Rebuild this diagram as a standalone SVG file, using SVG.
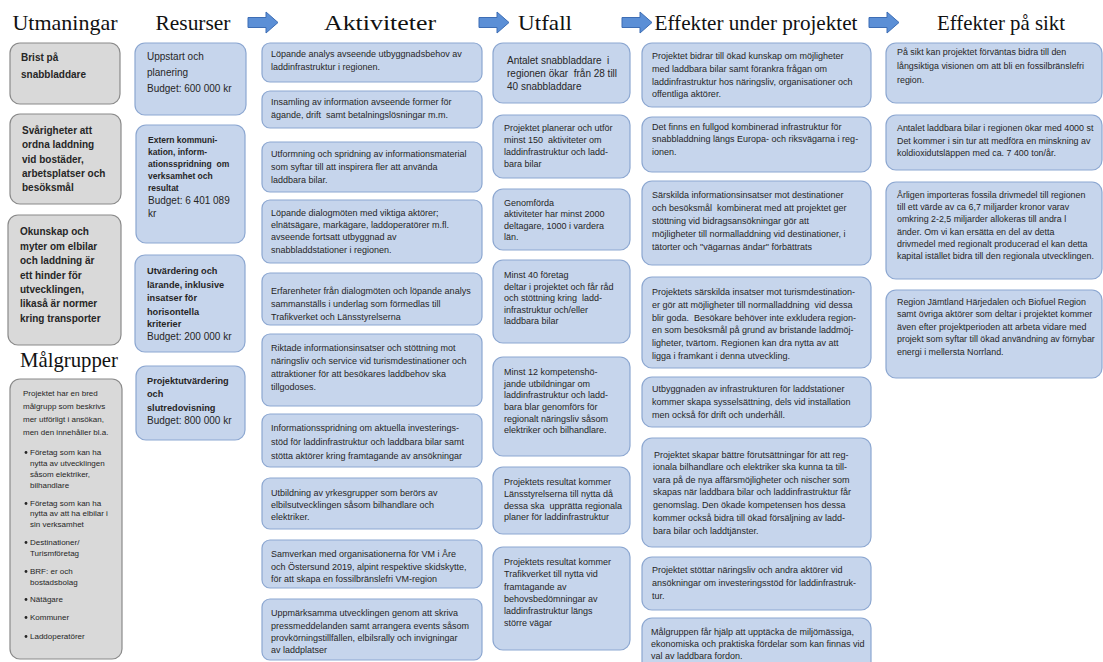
<svg xmlns="http://www.w3.org/2000/svg" width="1103" height="662" viewBox="0 0 1103 662">
<style>
text{font-family:"Liberation Sans",Arial,sans-serif;font-size:9px;fill:#262626;white-space:pre}
.h{font-family:"Liberation Serif","Times New Roman",serif;font-size:21.5px;fill:#111;text-anchor:middle}
.b{font-weight:bold}
.s10{font-size:10px}
.s8{font-size:8px}
.s93{font-size:8.9px}
.bx{fill:#c6d5ec;stroke:#8ca7d1;stroke-width:1.2}
.gx{fill:#d9d9d9;stroke:#8a8a8a;stroke-width:1.2}
.arr{fill:#5b8fd6;stroke:#3d6db4;stroke-width:1}
.dot{fill:#262626}
</style>
<defs>
<path id="arrow" d="M0,17.5 h18 v-5.5 l12,10.5 l-12,10.5 v-5.5 h-18 z"/>
</defs>

<g id="titles">
<text class="h" x="65" y="30" textLength="105" lengthAdjust="spacingAndGlyphs">Utmaningar</text>
<text class="h" x="193" y="30" textLength="75" lengthAdjust="spacingAndGlyphs">Resurser</text>
<text class="h" x="380" y="30" textLength="112" lengthAdjust="spacingAndGlyphs">Aktiviteter</text>
<text class="h" x="545" y="30" textLength="54" lengthAdjust="spacingAndGlyphs">Utfall</text>
<text class="h" x="756" y="30" textLength="203" lengthAdjust="spacingAndGlyphs">Effekter under projektet</text>
<text class="h" x="1001" y="30" textLength="128" lengthAdjust="spacingAndGlyphs">Effekter på sikt</text>
<text class="h" x="69" y="367" textLength="98" lengthAdjust="spacingAndGlyphs">Målgrupper</text>
</g>

<g id="connectors">
<use href="#arrow" class="arr" x="248" y="0"/>
<use href="#arrow" class="arr" x="479" y="0"/>
<use href="#arrow" class="arr" x="622" y="0"/>
<use href="#arrow" class="arr" x="869" y="0"/>
</g>

<!-- Utmaningar -->
<g id="c1"><rect class="gx" x="10" y="43" width="110" height="61" rx="10"/>
<text class="b s10" x="21" y="61">Brist på</text><text class="b s10" x="21" y="78">snabbladdare</text></g>
<g id="c2"><rect class="gx" x="10" y="114" width="111" height="90" rx="10"/>
<text class="b s10" x="22"><tspan x="22" y="134">Svårigheter att</tspan><tspan x="22" y="148">ordna laddning</tspan><tspan x="22" y="163">vid bostäder,</tspan><tspan x="22" y="177">arbetsplatser och</tspan><tspan x="22" y="191">besöksmål</tspan></text></g>
<g id="c3"><rect class="gx" x="8" y="215" width="113" height="130" rx="10"/>
<text class="b s10" x="20"><tspan x="20" y="235">Okunskap och</tspan><tspan x="20" y="250">myter om elbilar</tspan><tspan x="20" y="264">och laddning är</tspan><tspan x="20" y="279">ett hinder för</tspan><tspan x="20" y="293">utvecklingen,</tspan><tspan x="20" y="307">likaså är normer</tspan><tspan x="20" y="322">kring transporter</tspan></text></g>

<!-- Målgrupper -->
<g id="c4"><rect class="gx" x="10" y="379" width="112" height="280" rx="10"/>
<text class="s8"><tspan x="23" y="396">Projektet har en bred</tspan><tspan x="23" y="409">målgrupp som beskrivs</tspan><tspan x="23" y="422">mer utförligt i ansökan,</tspan><tspan x="23" y="435">men den innehåller bl.a.</tspan></text>
<circle class="dot" cx="26" cy="452.5" r="1.4"/><circle class="dot" cx="26" cy="503.5" r="1.4"/><circle class="dot" cx="26" cy="542.5" r="1.4"/><circle class="dot" cx="26" cy="571.5" r="1.4"/><circle class="dot" cx="26" cy="599.5" r="1.4"/><circle class="dot" cx="26" cy="617.5" r="1.4"/><circle class="dot" cx="26" cy="636.5" r="1.4"/>
<text class="s8"><tspan x="30" y="455">Företag som kan ha</tspan><tspan x="30" y="466">nytta av utvecklingen</tspan><tspan x="30" y="477">såsom elektriker,</tspan><tspan x="30" y="488">bilhandlare</tspan><tspan x="30" y="506">Företag som kan ha</tspan><tspan x="30" y="516">nytta av att ha elbilar i</tspan><tspan x="30" y="527">sin verksamhet</tspan><tspan x="30" y="545">Destinationer/</tspan><tspan x="30" y="556">Turismföretag</tspan><tspan x="30" y="574">BRF: er och</tspan><tspan x="30" y="585">bostadsbolag</tspan><tspan x="30" y="602">Nätägare</tspan><tspan x="30" y="620">Kommuner</tspan><tspan x="30" y="639">Laddoperatörer</tspan></text></g>

<!-- Resurser -->
<g id="r1"><rect class="bx" x="135" y="43" width="111" height="72" rx="10"/>
<text class="s10"><tspan x="147" y="60">Uppstart och</tspan><tspan x="147" y="76">planering</tspan><tspan x="147" y="92">Budget: 600 000 kr</tspan></text></g>
<g id="r2"><rect class="bx" x="136" y="125" width="109" height="118" rx="10"/>
<text class="b" style="font-size:8.5px"><tspan x="148" y="143">Extern kommuni-</tspan><tspan x="148" y="155">kation, inform-</tspan><tspan x="148" y="167">ationsspridning  om</tspan><tspan x="148" y="179">verksamhet och</tspan><tspan x="148" y="191">resultat</tspan></text>
<text class="s10"><tspan x="148" y="204">Budget: 6 401 089</tspan><tspan x="148" y="217">kr</tspan></text></g>
<g id="r3"><rect class="bx" x="135" y="255" width="110" height="97" rx="10"/>
<text class="b" style="font-size:9.2px"><tspan x="147" y="274">Utvärdering och</tspan><tspan x="147" y="288">lärande, inklusive</tspan><tspan x="147" y="301">insatser för</tspan><tspan x="147" y="315">horisontella</tspan><tspan x="147" y="327">kriterier</tspan></text>
<text class="s10" x="147" y="340">Budget: 200 000 kr</text></g>
<g id="r4"><rect class="bx" x="136" y="366" width="109" height="74" rx="10"/>
<text class="b" style="font-size:9.2px"><tspan x="147" y="384">Projektutvärdering</tspan><tspan x="147" y="397">och</tspan><tspan x="147" y="411">slutredovisning</tspan></text>
<text class="s10" x="147" y="424">Budget: 800 000 kr</text></g>

<!-- Aktiviteter -->
<g id="a1"><rect class="bx" x="262" y="43" width="220" height="39" rx="8"/>
<text><tspan x="271" y="57">Löpande analys avseende utbyggnadsbehov av</tspan><tspan x="271" y="70">laddinfrastruktur i regionen.</tspan></text></g>
<g id="a2"><rect class="bx" x="262" y="91" width="220" height="37" rx="8"/>
<text><tspan x="271" y="105">Insamling av information avseende former för</tspan><tspan x="271" y="118">ägande, drift  samt betalningslösningar m.m.</tspan></text></g>
<g id="a3"><rect class="bx" x="262" y="142" width="220" height="50" rx="8"/>
<text><tspan x="271" y="157">Utformning och spridning av informationsmaterial</tspan><tspan x="271" y="170">som syftar till att inspirera fler att använda</tspan><tspan x="271" y="183">laddbara bilar.</tspan></text></g>
<g id="a4"><rect class="bx" x="262" y="200" width="220" height="63" rx="8"/>
<text><tspan x="271" y="216">Löpande dialogmöten med viktiga aktörer;</tspan><tspan x="271" y="228">elnätsägare, markägare, laddoperatörer m.fl.</tspan><tspan x="271" y="240">avseende fortsatt utbyggnad av</tspan><tspan x="271" y="253">snabbladdstationer i regionen.</tspan></text></g>
<g id="a5"><rect class="bx" x="262" y="273" width="220" height="52" rx="8"/>
<text><tspan x="271" y="294">Erfarenheter från dialogmöten och löpande analys</tspan><tspan x="271" y="307">sammanställs i underlag som förmedlas till</tspan><tspan x="271" y="320">Trafikverket och Länsstyrelserna</tspan></text></g>
<g id="a6"><rect class="bx" x="262" y="334" width="220" height="72" rx="8"/>
<text><tspan x="271" y="351">Riktade informationsinsatser och stöttning mot</tspan><tspan x="271" y="364">näringsliv och service vid turismdestinationer och</tspan><tspan x="271" y="377">attraktioner för att besökares laddbehov ska</tspan><tspan x="271" y="390">tillgodoses.</tspan></text></g>
<g id="a7"><rect class="bx" x="262" y="414" width="220" height="53" rx="8"/>
<text><tspan x="271" y="431">Informationsspridning om aktuella investerings-</tspan><tspan x="271" y="445">stöd för laddinfrastruktur och laddbara bilar samt</tspan><tspan x="271" y="459">stötta aktörer kring framtagande av ansökningar</tspan></text></g>
<g id="a8"><rect class="bx" x="262" y="478" width="220" height="51" rx="8"/>
<text><tspan x="271" y="496">Utbildning av yrkesgrupper som berörs av</tspan><tspan x="271" y="508">elbilsutvecklingen såsom bilhandlare och</tspan><tspan x="271" y="520">elektriker.</tspan></text></g>
<g id="a9"><rect class="bx" x="262" y="540" width="220" height="48" rx="8"/>
<text><tspan x="271" y="557">Samverkan med organisationerna för VM i Åre</tspan><tspan x="271" y="570">och Östersund 2019, alpint respektive skidskytte,</tspan><tspan x="271" y="582">för att skapa en fossilbränslefri VM-region</tspan></text></g>
<g id="a10"><rect class="bx" x="262" y="599" width="220" height="61" rx="8"/>
<text><tspan x="271" y="616">Uppmärksamma utvecklingen genom att skriva</tspan><tspan x="271" y="629">pressmeddelanden samt arrangera events såsom</tspan><tspan x="271" y="641">provkörningstillfällen, elbilsrally och invigningar</tspan><tspan x="271" y="653">av laddplatser</tspan></text></g>

<!-- Utfall -->
<g id="u1"><rect class="bx" x="493" y="43" width="137" height="60" rx="10"/>
<text class="s10"><tspan x="507" y="64">Antalet snabbladdare  i</tspan><tspan x="507" y="77">regionen ökar  från 28 till</tspan><tspan x="507" y="90">40 snabbladdare</tspan></text></g>
<g id="u2"><rect class="bx" x="493" y="115" width="137" height="63" rx="10"/>
<text><tspan x="504" y="131">Projektet planerar och utför</tspan><tspan x="504" y="143">minst 150  aktiviteter om</tspan><tspan x="504" y="155">laddinfrastruktur och ladd-</tspan><tspan x="504" y="167">bara bilar</tspan></text></g>
<g id="u3"><rect class="bx" x="493" y="189" width="137" height="61" rx="10"/>
<text><tspan x="504" y="206">Genomförda</tspan><tspan x="504" y="217">aktiviteter har minst 2000</tspan><tspan x="504" y="229">deltagare, 1000 i vardera</tspan><tspan x="504" y="240">län.</tspan></text></g>
<g id="u4"><rect class="bx" x="493" y="260" width="137" height="83" rx="10"/>
<text><tspan x="504" y="278">Minst 40 företag</tspan><tspan x="504" y="290">deltar i projektet och får råd</tspan><tspan x="504" y="301">och stöttning kring  ladd-</tspan><tspan x="504" y="313">infrastruktur och/eller</tspan><tspan x="504" y="324">laddbara bilar</tspan></text></g>
<g id="u5"><rect class="bx" x="493" y="357" width="137" height="99" rx="10"/>
<text><tspan x="504" y="375">Minst 12 kompetenshö-</tspan><tspan x="504" y="387">jande utbildningar om</tspan><tspan x="504" y="398">laddinfrastruktur och ladd-</tspan><tspan x="504" y="410">bara blar genomförs för</tspan><tspan x="504" y="422">regionalt näringsliv såsom</tspan><tspan x="504" y="433">elektriker och bilhandlare.</tspan></text></g>
<g id="u6"><rect class="bx" x="493" y="467" width="137" height="67" rx="10"/>
<text><tspan x="504" y="485">Projektets resultat kommer</tspan><tspan x="504" y="497">Länsstyrelserna till nytta då</tspan><tspan x="504" y="509">dessa ska  upprätta regionala</tspan><tspan x="504" y="520">planer för laddinfrastruktur</tspan></text></g>
<g id="u7"><rect class="bx" x="493" y="547" width="137" height="103" rx="10"/>
<text><tspan x="504" y="565">Projektets resultat kommer</tspan><tspan x="504" y="577">Trafikverket till nytta vid</tspan><tspan x="504" y="590">framtagande av</tspan><tspan x="504" y="602">behovsbedömningar av</tspan><tspan x="504" y="614">laddinfrastruktur längs</tspan><tspan x="504" y="626">större vägar</tspan></text></g>

<!-- Effekter under projektet -->
<g id="e1"><rect class="bx" x="642" y="43" width="229" height="64" rx="10"/>
<text><tspan x="652" y="59">Projektet bidrar till ökad kunskap om möjligheter</tspan><tspan x="652" y="72">med laddbara bilar samt förankra frågan om</tspan><tspan x="652" y="85">laddinfrastruktur hos näringsliv, organisationer och</tspan><tspan x="652" y="97">offentliga aktörer.</tspan></text></g>
<g id="e2"><rect class="bx" x="642" y="117" width="229" height="55" rx="10"/>
<text><tspan x="652" y="130">Det finns en fullgod kombinerad infrastruktur för</tspan><tspan x="652" y="142">snabbladdning längs Europa- och riksvägarna i reg-</tspan><tspan x="652" y="155">ionen.</tspan></text></g>
<g id="e3"><rect class="bx" x="642" y="181" width="229" height="84" rx="10"/>
<text><tspan x="652" y="198">Särskilda informationsinsatser mot destinationer</tspan><tspan x="652" y="211">och besöksmål  kombinerat med att projektet ger</tspan><tspan x="652" y="224">stöttning vid bidragsansökningar gör att</tspan><tspan x="652" y="237">möjligheter till normalladdning vid destinationer, i</tspan><tspan x="652" y="250">tätorter och "vägarnas ändar" förbättrats</tspan></text></g>
<g id="e4"><rect class="bx" x="642" y="277" width="229" height="91" rx="10"/>
<text><tspan x="652" y="295">Projektets särskilda insatser mot turismdestination-</tspan><tspan x="652" y="308">er gör att möjligheter till normalladdning  vid dessa</tspan><tspan x="652" y="321">blir goda.  Besökare behöver inte exkludera region-</tspan><tspan x="652" y="333">en som besöksmål på grund av bristande laddmöj-</tspan><tspan x="652" y="346">ligheter, tvärtom. Regionen kan dra nytta av att</tspan><tspan x="652" y="359">ligga i framkant i denna utveckling.</tspan></text></g>
<g id="e5"><rect class="bx" x="642" y="377" width="229" height="50" rx="10"/>
<text><tspan x="652" y="392">Utbyggnaden av infrastrukturen för laddstationer</tspan><tspan x="652" y="405">kommer skapa sysselsättning, dels vid installation</tspan><tspan x="652" y="418">men också för drift och underhåll.</tspan></text></g>
<g id="e6"><rect class="bx" x="642" y="438" width="229" height="109" rx="10"/>
<text><tspan x="654" y="458">Projektet skapar bättre förutsättningar för att reg-</tspan><tspan x="653" y="470">ionala bilhandlare och elektriker ska kunna ta till-</tspan><tspan x="653" y="483">vara på de nya affärsmöjligheter och nischer som</tspan><tspan x="653" y="495">skapas när laddbara bilar och laddinfrastruktur får</tspan><tspan x="653" y="508">genomslag. Den ökade kompetensen hos dessa</tspan><tspan x="653" y="521">kommer också bidra till ökad försäljning av ladd-</tspan><tspan x="653" y="534">bara bilar och laddtjänster.</tspan></text></g>
<g id="e7"><rect class="bx" x="642" y="557" width="229" height="53" rx="10"/>
<text><tspan x="652" y="573">Projektet stöttar näringsliv och andra aktörer vid</tspan><tspan x="652" y="586">ansökningar om investeringsstöd för laddinfrastruk-</tspan><tspan x="652" y="599">tur.</tspan></text></g>
<g id="e8"><rect class="bx" x="642" y="618" width="229" height="56" rx="10"/>
<text><tspan x="651" y="635">Målgruppen får hjälp att upptäcka de miljömässiga,</tspan><tspan x="651" y="647">ekonomiska och praktiska fördelar som kan finnas vid</tspan><tspan x="651" y="659">val av laddbara fordon.</tspan></text></g>

<!-- Effekter på sikt -->
<g id="l1"><rect class="bx" x="886" y="43" width="216" height="60" rx="10"/>
<text class="s93"><tspan x="897" y="55">På sikt kan projektet förväntas bidra till den</tspan><tspan x="897" y="69">långsiktiga visionen om att bli en fossilbränslefri</tspan><tspan x="897" y="83">region.</tspan></text></g>
<g id="l2"><rect class="bx" x="886" y="115" width="216" height="55" rx="10"/>
<text class="s93"><tspan x="897" y="131">Antalet laddbara bilar i regionen ökar med 4000 st</tspan><tspan x="897" y="144">Det kommer i sin tur att medföra en minskning av</tspan><tspan x="897" y="156">koldioxidutsläppen med ca. 7 400 ton/år.</tspan></text></g>
<g id="l3"><rect class="bx" x="886" y="182" width="216" height="97" rx="10"/>
<text class="s93"><tspan x="897" y="198">Årligen importeras fossila drivmedel till regionen</tspan><tspan x="897" y="210">till ett värde av ca 6,7 miljarder kronor varav</tspan><tspan x="897" y="222">omkring 2-2,5 miljarder allokeras till andra l</tspan><tspan x="897" y="235">änder. Om vi kan ersätta en del av detta</tspan><tspan x="897" y="247">drivmedel med regionalt producerad el kan detta</tspan><tspan x="897" y="259">kapital istället bidra till den regionala utvecklingen.</tspan></text></g>
<g id="l4"><rect class="bx" x="886" y="290" width="216" height="88" rx="10"/>
<text class="s93"><tspan x="897" y="305">Region Jämtland Härjedalen och Biofuel Region</tspan><tspan x="897" y="317">samt övriga aktörer som deltar i projektet kommer</tspan><tspan x="897" y="330">även efter projektperioden att arbeta vidare med</tspan><tspan x="897" y="342">projekt som syftar till ökad användning av förnybar</tspan><tspan x="897" y="355">energi i mellersta Norrland.</tspan></text></g>
</svg>
